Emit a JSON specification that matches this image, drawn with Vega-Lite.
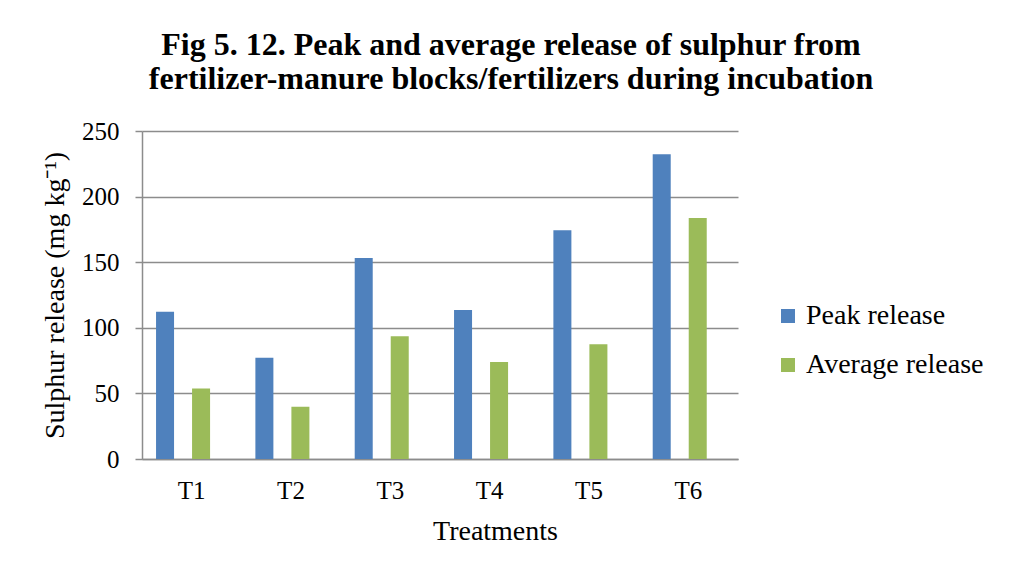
{
  "$schema": "https://vega.github.io/schema/vega-lite/v6.json",
  "width": 596,
  "height": 328,
  "autosize": {"type": "none"},
  "padding": {"left": 142, "top": 131, "right": 278, "bottom": 120},
  "background": "white",
  "title": {
    "text": ["Fig 5. 12. Peak and average release of sulphur from", "fertilizer-manure blocks/fertilizers during incubation"],
    "font": "Liberation Serif",
    "fontSize": 32,
    "fontWeight": "bold",
    "color": "black",
    "anchor": "middle",
    "dx": 71,
    "offset": 23,
    "lineHeight": 34
  },
  "data": {
    "values": [
      {"Treatment": "T1", "Series": "Peak release", "Value": 112.3},
      {"Treatment": "T1", "Series": "Average release", "Value": 53.7},
      {"Treatment": "T2", "Series": "Peak release", "Value": 77.1},
      {"Treatment": "T2", "Series": "Average release", "Value": 39.8},
      {"Treatment": "T3", "Series": "Peak release", "Value": 153.2},
      {"Treatment": "T3", "Series": "Average release", "Value": 93.6},
      {"Treatment": "T4", "Series": "Peak release", "Value": 113.6},
      {"Treatment": "T4", "Series": "Average release", "Value": 74.0},
      {"Treatment": "T5", "Series": "Peak release", "Value": 174.3},
      {"Treatment": "T5", "Series": "Average release", "Value": 87.5},
      {"Treatment": "T6", "Series": "Peak release", "Value": 232.3},
      {"Treatment": "T6", "Series": "Average release", "Value": 183.6}
    ]
  },
  "mark": {"type": "bar"},
  "encoding": {
    "x": {
      "field": "Treatment",
      "type": "nominal",
      "scale": {"paddingInner": 0, "paddingOuter": 0},
      "axis": {
        "title": "Treatments",
        "labelAngle": 0,
        "ticks": false,
        "labelPadding": 19,
        "labelFontSize": 25,
        "titleFontSize": 28,
        "titlePadding": 14,
        "titleX": 353,
        "domainColor": "#8c8c8c",
        "domainWidth": 1.5
      }
    },
    "xOffset": {
      "field": "Series",
      "type": "nominal",
      "sort": ["Peak release", "Average release"],
      "scale": {"paddingInner": 0.5, "paddingOuter": 0.629, "align": 0.31}
    },
    "y": {
      "field": "Value",
      "type": "quantitative",
      "scale": {"domain": [0, 250], "nice": false},
      "axis": {
        "title": "Sulphur release  (mg kg⁻¹)",
        "values": [0, 50, 100, 150, 200, 250],
        "tickSize": 7,
        "tickColor": "#8c8c8c",
        "tickWidth": 1.5,
        "labelPadding": 16,
        "labelFontSize": 25,
        "titleFontSize": 28,
        "titlePadding": 12,
        "domainColor": "#8c8c8c",
        "domainWidth": 1.5,
        "grid": true,
        "gridColor": "#8c8c8c",
        "gridWidth": 1.5
      }
    },
    "color": {
      "field": "Series",
      "type": "nominal",
      "scale": {"domain": ["Peak release", "Average release"], "range": ["#4F81BD", "#9BBB59"]},
      "legend": {
        "title": null,
        "orient": "none",
        "legendX": 632,
        "legendY": 171,
        "padding": 0,
        "symbolType": "square",
        "symbolSize": 196,
        "symbolStrokeWidth": 0,
        "labelFontSize": 28,
        "labelOffset": 4,
        "labelLimit": 400,
        "rowPadding": 21
      }
    }
  },
  "config": {
    "view": {"stroke": null},
    "font": "Liberation Serif",
    "axis": {
      "labelFont": "Liberation Serif",
      "titleFont": "Liberation Serif",
      "labelColor": "black",
      "titleColor": "black",
      "titleFontWeight": "normal"
    },
    "legend": {"labelFont": "Liberation Serif", "labelColor": "black"}
  }
}
